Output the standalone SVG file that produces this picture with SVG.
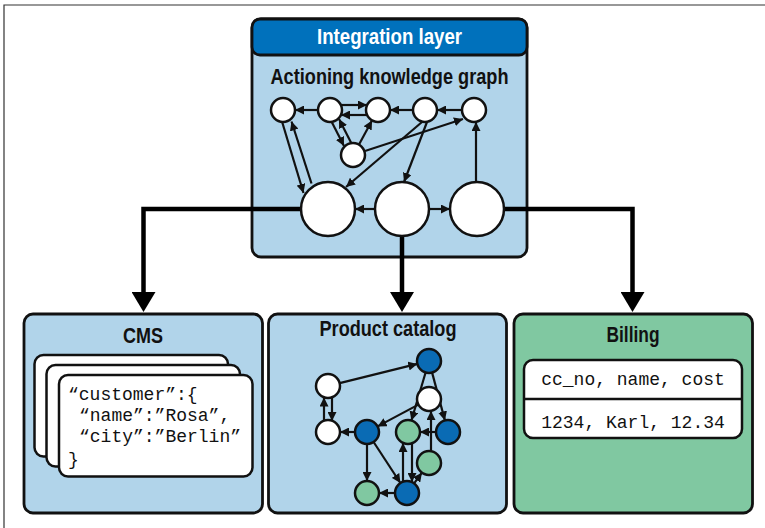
<svg xmlns="http://www.w3.org/2000/svg" width="765" height="528" viewBox="0 0 765 528">
<style>
.box{stroke:#111;stroke-width:2.8}
.lb{fill:#b1d4ea}
.gr{fill:#80c8a1}
.card{fill:#fff;stroke:#111;stroke-width:2.5}
.title{font-family:"Liberation Sans Narrow","Liberation Sans",Arial,sans-serif;font-size:22px;font-weight:bold;fill:#111;text-anchor:middle}
.mono{font-family:"Liberation Mono","DejaVu Sans Mono",monospace;font-size:18px;fill:#111}
.nd{stroke:#111;stroke-width:2.5;fill:#fff}
.bl{fill:#0a6bb4}
.gn{fill:#80c8a1}
.e{stroke:#111;stroke-width:2.2;fill:none;marker-end:url(#a)}
.big{stroke:#000;stroke-width:4.5;fill:none;marker-end:url(#A)}
</style>
<defs>
<marker id="a" viewBox="0 0 10 10" refX="10" refY="5" markerWidth="9" markerHeight="9" markerUnits="userSpaceOnUse" orient="auto"><path d="M0,0 L10,5 L0,10 z" fill="#111"/></marker>
<marker id="A" viewBox="0 0 20 24" refX="0" refY="12" markerWidth="20" markerHeight="24" markerUnits="userSpaceOnUse" orient="auto"><path d="M0,0 L20,12 L0,24 z" fill="#000"/></marker>
</defs>
<rect x="0" y="0" width="765" height="528" fill="#fff"/>
<path d="M4,528 V5 H765" fill="none" stroke="#333" stroke-width="1.2"/>

<g id="integration-layer">
<rect class="box lb" x="252" y="19" width="275" height="238" rx="9"/>
<rect class="box" x="252" y="19" width="275" height="36" rx="8" fill="#0071bc"/>
<text class="title" x="389.5" y="44" style="fill:#fff" textLength="145" lengthAdjust="spacingAndGlyphs">Integration layer</text>
<text class="title" x="389.5" y="84" textLength="238" lengthAdjust="spacingAndGlyphs">Actioning knowledge graph</text>
</g>

<g id="cms">
<rect class="box lb" x="24" y="314" width="238.5" height="199" rx="9"/>
<text class="title" x="143" y="343" textLength="40" lengthAdjust="spacingAndGlyphs">CMS</text>
<rect class="card" x="34.5" y="355" width="193.5" height="101.5" rx="9"/>
<rect class="card" x="46.5" y="365" width="193.5" height="101.5" rx="9"/>
<rect class="card" x="59" y="375" width="193.5" height="101.5" rx="9"/>
<text class="mono" x="68" y="400">“customer”:{</text>
<text class="mono" x="79" y="421">“name”:”Rosa”,</text>
<text class="mono" x="79" y="442">“city”:”Berlin”</text>
<text class="mono" x="68" y="465">}</text>
</g>

<g id="product-catalog">
<rect class="box lb" x="268.5" y="314" width="238" height="199" rx="9"/>
<text class="title" x="388" y="336" textLength="137" lengthAdjust="spacingAndGlyphs">Product catalog</text>
</g>

<g id="billing">
<rect class="box gr" x="514" y="314" width="238.5" height="199" rx="9"/>
<text class="title" x="633" y="342" textLength="53" lengthAdjust="spacingAndGlyphs">Billing</text>
<rect class="card" x="524" y="360" width="218" height="78" rx="9"/>
<line x1="524" y1="399" x2="742" y2="399" stroke="#111" stroke-width="2.5"/>
<text class="mono" x="633" y="385" text-anchor="middle">cc_no, name, cost</text>
<text class="mono" x="633" y="428" text-anchor="middle">1234, Karl, 12.34</text>
</g>

<g id="connectors">
<path class="big" d="M301,209 H143.5 V292"/>
<path class="big" d="M402,236 V292"/>
<path class="big" d="M504,209 H632.5 V292"/>
<line class="e" x1="318" y1="110" x2="295" y2="110"/>
<line class="e" x1="341" y1="105" x2="367" y2="105"/>
<line class="e" x1="367" y1="115" x2="341" y2="115"/>
<line class="e" x1="413" y1="110" x2="390" y2="110"/>
<line class="e" x1="462" y1="110" x2="437" y2="110"/>
<line class="e" x1="332" y1="122.5" x2="344" y2="146"/>
<line class="e" x1="351" y1="142.5" x2="339" y2="119"/>
<line class="e" x1="359" y1="144.5" x2="372" y2="120.5"/>
<line class="e" x1="365" y1="151" x2="463" y2="119"/>
<line class="e" x1="422" y1="122" x2="346" y2="187"/>
<line class="e" x1="427" y1="122" x2="404" y2="182"/>
<line class="e" x1="476" y1="182" x2="476" y2="122"/>
<line class="e" x1="282" y1="121.5" x2="303.5" y2="193"/>
<line class="e" x1="311.5" y1="183.5" x2="291.5" y2="121.5"/>
<line class="e" x1="375" y1="209" x2="355" y2="209"/>
<line class="e" x1="429" y1="209" x2="450" y2="209"/>
<line class="e" x1="339.7" y1="383.1" x2="417.3" y2="363.9"/>
<line class="e" x1="324" y1="421" x2="324" y2="397.5"/>
<line class="e" x1="332" y1="397.5" x2="332" y2="421"/>
<line class="e" x1="355" y1="432" x2="340" y2="432"/>
<line class="e" x1="425.6" y1="372.5" x2="411.4" y2="420.5"/>
<line class="e" x1="432.1" y1="372.6" x2="444.9" y2="420.4"/>
<line class="e" x1="418.4" y1="404.6" x2="377.6" y2="426.4"/>
<line class="e" x1="436" y1="432" x2="420" y2="432"/>
<line class="e" x1="431" y1="451.5" x2="431" y2="411"/>
<line class="e" x1="367" y1="444" x2="367" y2="481"/>
<line class="e" x1="373.6" y1="442" x2="400.4" y2="483"/>
<line class="e" x1="395" y1="493" x2="379" y2="493"/>
<line class="e" x1="403" y1="482" x2="403" y2="443"/>
<line class="e" x1="412" y1="443" x2="412" y2="482"/>
<line class="e" x1="414.1" y1="483.3" x2="421.9" y2="472.7"/>
</g>

<g id="kg-n1"><circle class="nd" cx="283" cy="110" r="12"/></g>
<g id="kg-n2"><circle class="nd" cx="330" cy="110" r="12"/></g>
<g id="kg-n3"><circle class="nd" cx="378" cy="110" r="12"/></g>
<g id="kg-n4"><circle class="nd" cx="425" cy="110" r="12"/></g>
<g id="kg-n5"><circle class="nd" cx="474" cy="110" r="12"/></g>
<g id="kg-n6"><circle class="nd" cx="353" cy="155" r="12"/></g>
<g id="kg-b1"><circle class="nd" cx="328" cy="209" r="27"/></g>
<g id="kg-b2"><circle class="nd" cx="402" cy="209" r="27"/></g>
<g id="kg-b3"><circle class="nd" cx="477" cy="209" r="27"/></g>

<g id="pc-1"><circle class="nd" cx="328" cy="386" r="12"/></g>
<g id="pc-2"><circle class="nd" cx="328" cy="432" r="12"/></g>
<g id="pc-3"><circle class="nd bl" cx="367" cy="432" r="12"/></g>
<g id="pc-4"><circle class="nd bl" cx="429" cy="361" r="12"/></g>
<g id="pc-5"><circle class="nd" cx="429" cy="399" r="12"/></g>
<g id="pc-6"><circle class="nd gn" cx="408" cy="432" r="12"/></g>
<g id="pc-7"><circle class="nd bl" cx="448" cy="432" r="12"/></g>
<g id="pc-8"><circle class="nd gn" cx="429" cy="463" r="12"/></g>
<g id="pc-9"><circle class="nd gn" cx="367" cy="493" r="12"/></g>
<g id="pc-10"><circle class="nd bl" cx="407" cy="493" r="12"/></g>
</svg>
